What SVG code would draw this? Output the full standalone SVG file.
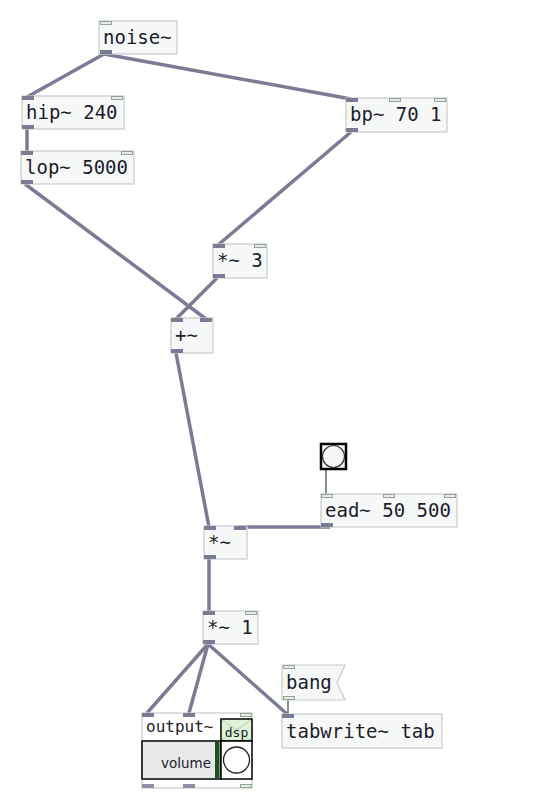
<svg xmlns="http://www.w3.org/2000/svg" width="540" height="802" viewBox="0 0 540 802">
<style>
.box{fill:#f6f8f8;stroke:#c6cbcb;stroke-width:1.2}
.t{font-family:"DejaVu Sans Mono","Liberation Mono",monospace;font-size:19px;fill:#1c1c2c}
.sig{fill:#7b7b93}
.ctl{fill:#e6ebe6;stroke:#95a395;stroke-width:1}
.wire{stroke:#7b7b93;stroke-width:3.5;fill:none;stroke-linecap:butt}
.cwire{stroke:#5f725f;stroke-width:1.5;fill:none}
</style>
<rect width="540" height="802" fill="#ffffff"/>
<g id="connectors">
<line class="wire" x1="104" y1="54" x2="27" y2="97"/>
<line class="wire" x1="104" y1="54" x2="351" y2="99"/>
<line class="wire" x1="27" y1="129" x2="27" y2="151"/>
<line class="wire" x1="25" y1="184" x2="206" y2="319"/>
<line class="wire" x1="351" y1="132" x2="218" y2="245"/>
<line class="wire" x1="217" y1="278" x2="176" y2="319"/>
<line class="wire" x1="176" y1="353" x2="209" y2="527"/>
<line class="wire" x1="330" y1="527" x2="238" y2="527"/>
<line class="wire" x1="209" y1="559" x2="209" y2="611"/>
<line class="wire" x1="208" y1="644" x2="147" y2="713"/>
<line class="wire" x1="208" y1="644" x2="189" y2="713"/>
<line class="wire" x1="208" y1="644" x2="287" y2="714"/>
<line class="cwire" x1="326" y1="470" x2="326" y2="494"/>
<line class="cwire" x1="288" y1="700" x2="288" y2="714"/>
</g>
<g id="noise">
<rect class="box" x="99" y="21" width="78" height="33"/>
<rect class="ctl" x="100.5" y="21.5" width="11" height="3"/>
<rect class="sig" x="100" y="50" width="12" height="4"/>
<text class="t" x="103" y="44">noise~</text>
</g>
<g id="hip">
<rect class="box" x="22" y="96" width="102" height="33"/>
<rect class="sig" x="22" y="96" width="12" height="4"/>
<rect class="ctl" x="111.5" y="96.5" width="11" height="3"/>
<rect class="sig" x="22" y="125" width="12" height="4"/>
<text class="t" x="26" y="119">hip~ 240</text>
</g>
<g id="lop">
<rect class="box" x="21" y="151" width="113" height="33"/>
<rect class="sig" x="21" y="151" width="12" height="4"/>
<rect class="ctl" x="121.5" y="151.5" width="11" height="3"/>
<rect class="sig" x="21" y="180" width="12" height="4"/>
<text class="t" x="25" y="174">lop~ 5000</text>
</g>
<g id="bp">
<rect class="box" x="346" y="98" width="101" height="34"/>
<rect class="sig" x="346" y="98" width="12" height="4"/>
<rect class="ctl" x="389.5" y="98.5" width="11" height="3"/>
<rect class="ctl" x="434.5" y="98.5" width="11" height="3"/>
<rect class="sig" x="346" y="128" width="12" height="4"/>
<text class="t" x="350" y="121">bp~ 70 1</text>
</g>
<g id="mul3">
<rect class="box" x="213" y="244" width="54" height="34"/>
<rect class="sig" x="213" y="244" width="12" height="4"/>
<rect class="ctl" x="254.5" y="244.5" width="11" height="3"/>
<rect class="sig" x="213" y="274" width="12" height="4"/>
<text class="t" x="217" y="267">*~ 3</text>
</g>
<g id="add">
<rect class="box" x="171" y="318" width="42" height="35"/>
<rect class="sig" x="171" y="318" width="12" height="4"/>
<rect class="sig" x="200" y="318" width="12" height="4"/>
<rect class="sig" x="171" y="349" width="12" height="4"/>
<text class="t" x="175" y="342">+~</text>
</g>
<g id="bng">
<rect x="321" y="444" width="25" height="25" fill="#ffffff" stroke="#000000" stroke-width="2.5"/>
<circle cx="333.5" cy="456.5" r="11" fill="#f6f6f6" stroke="#333333" stroke-width="1.2"/>
</g>
<g id="ead">
<rect class="box" x="321" y="494" width="136" height="33"/>
<rect class="ctl" x="321.5" y="494.5" width="11" height="3"/>
<rect class="ctl" x="383.5" y="494.5" width="11" height="3"/>
<rect class="ctl" x="444.5" y="494.5" width="11" height="3"/>
<rect class="sig" x="321" y="523" width="12" height="4"/>
<text class="t" x="325" y="517">ead~ 50 500</text>
</g>
<g id="mul">
<rect class="box" x="204" y="526" width="43" height="33"/>
<rect class="sig" x="204" y="526" width="12" height="4"/>
<rect class="sig" x="234" y="526" width="12" height="4"/>
<rect class="sig" x="204" y="555" width="12" height="4"/>
<text class="t" x="208" y="549">*~</text>
</g>
<g id="mul1">
<rect class="box" x="203" y="611" width="55" height="33"/>
<rect class="sig" x="203" y="611" width="12" height="4"/>
<rect class="ctl" x="245.5" y="611.5" width="11" height="3"/>
<rect class="sig" x="203" y="640" width="12" height="4"/>
<text class="t" x="207" y="634">*~ 1</text>
</g>
<g id="bangmsg">
<polygon points="282,665 345,665 337,683 345,700 282,700" fill="#f6f8f8" stroke="#c6cbcb" stroke-width="1.2"/>
<rect class="ctl" x="283.5" y="665.5" width="11" height="3"/>
<rect class="ctl" x="283.5" y="696.5" width="11" height="3"/>
<text class="t" x="286" y="689">bang</text>
</g>
<g id="tabwrite">
<rect class="box" x="282" y="714" width="160" height="34"/>
<rect class="sig" x="282" y="714" width="12" height="4"/>
<text class="t" x="286" y="738">tabwrite~ tab</text>
</g>
<g id="output">
<rect x="142" y="713" width="110" height="75" fill="#ffffff" stroke="#c6cbcb" stroke-width="1.2"/>
<text x="146" y="732" font-family="DejaVu Sans Mono, monospace" font-size="16" fill="#1c1c2c">output~</text>
<rect x="142" y="741" width="79" height="38" fill="#e8e8e8" stroke="#000000" stroke-width="1.5"/>
<rect x="215" y="742" width="4.5" height="36" fill="#1f4f1f"/>
<text x="211" y="768" text-anchor="end" font-family="DejaVu Sans, sans-serif" font-size="13.5" fill="#1c1c2c">volume</text>
<rect x="221" y="719" width="31" height="22" fill="#def4d6" stroke="#000000" stroke-width="1.5"/>
<line x1="222" y1="720" x2="251" y2="740" stroke="#b5ceb0" stroke-width="1"/>
<line x1="251" y1="720" x2="222" y2="740" stroke="#b5ceb0" stroke-width="1"/>
<text x="236.5" y="737" text-anchor="middle" font-family="DejaVu Sans Mono, monospace" font-size="13" fill="#1c1c2c">dsp</text>
<rect x="221" y="741" width="31" height="38" fill="#ffffff" stroke="#000000" stroke-width="1.5"/>
<circle cx="236.5" cy="760" r="13" fill="#ffffff" stroke="#222222" stroke-width="1.3"/>
<rect class="sig" x="142" y="713" width="12" height="4"/>
<rect class="sig" x="183" y="713" width="12" height="4"/>
<rect class="ctl" x="240.5" y="713.5" width="11" height="3"/>
<rect x="142" y="784" width="12" height="4" fill="#8e8ea4"/>
<rect x="183" y="784" width="12" height="4" fill="#8e8ea4"/>
<rect class="ctl" x="240.5" y="784.5" width="11" height="3"/>
</g>
</svg>
